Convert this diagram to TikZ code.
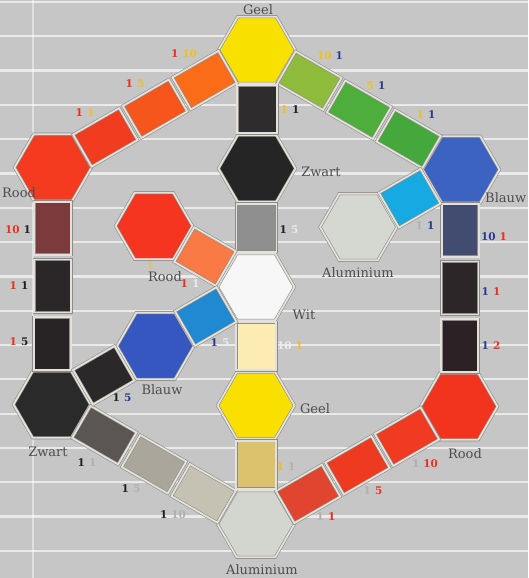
\documentclass[tikz,border=0pt]{standalone}
\usepackage{fontspec}
\setmainfont{DejaVu Serif}
\usetikzlibrary{calc}
\definecolor{bg}{RGB}{198,198,198}
\definecolor{bgl}{RGB}{234,234,234}
\definecolor{edge}{RGB}{140,140,140}
\definecolor{band}{RGB}{228,226,216}
\definecolor{lab}{RGB}{77,77,77}
\definecolor{nr}{RGB}{232,48,32}
\definecolor{ny}{RGB}{240,192,32}
\definecolor{nb}{RGB}{42,58,144}
\definecolor{nk}{RGB}{32,32,32}
\definecolor{nw}{RGB}{236,236,236}
\definecolor{ng}{RGB}{176,176,176}
\newcommand\hexat[3]{%
  \coordinate (#1) at #2;
  \draw[hexline, fill=#3] ($(#1)+(0:38.5)$) -- ($(#1)+(60:38.5)$) -- ($(#1)+(120:38.5)$)
     -- ($(#1)+(180:38.5)$) -- ($(#1)+(240:38.5)$) -- ($(#1)+(300:38.5)$) -- cycle;}
\begin{document}
\begin{tikzpicture}[x=1pt,y=-1pt,
  hexline/.style={draw=edge, line width=0.6pt, double=band, double distance=1.8pt},
  outsq/.style={rectangle, minimum width=53pt, minimum height=37pt, inner sep=0pt, hexline},
  insq/.style={rectangle, minimum width=48pt, minimum height=40pt, inner sep=0pt, hexline},
  lbl/.style={text=lab, font=\fontsize{13}{13}\selectfont, inner sep=0pt},
  num/.style={font=\bfseries\fontsize{10.5}{10.5}\selectfont, inner sep=0pt}]
\fill[bg] (0,0) rectangle (528,578);
\useasboundingbox (0,0) rectangle (528,578);
\foreach \k in {0,...,16} \draw[bgl, line width=2.2pt] (0,{2+34.3*\k}) -- (528,{2+34.3*\k});
\draw[white, opacity=0.45, line width=1.5pt] (33,0) -- (33,578);
% hexagons
\hexat{geel}{(257,50)}{{rgb,255:red,248;green,225;blue,0}}
\hexat{blauw}{(461,169.5)}{{rgb,255:red,60;green,98;blue,194}}
\hexat{roodR}{(459,406.5)}{{rgb,255:red,242;green,52;blue,31}}
\hexat{alu}{(256,524)}{{rgb,255:red,211;green,213;blue,207}}
\hexat{zwart}{(52,404.5)}{{rgb,255:red,42;green,42;blue,42}}
\hexat{roodL}{(53,167.5)}{{rgb,255:red,244;green,58;blue,31}}
\hexat{zwartI}{(257,168.5)}{{rgb,255:red,37;green,37;blue,37}}
\hexat{wit}{(256,287)}{{rgb,255:red,247;green,247;blue,247}}
\hexat{geelI}{(256,405.5)}{{rgb,255:red,249;green,224;blue,0}}
\hexat{roodI}{(154,226)}{{rgb,255:red,245;green,53;blue,31}}
\hexat{blauwI}{(155.5,346)}{{rgb,255:red,53;green,87;blue,191}}
\hexat{aluI}{(358.5,227)}{{rgb,255:red,213;green,215;blue,209}}
% outer connectors
\node[outsq, rotate=-30, fill={rgb,255:red,143;green,187;blue,60}] (g1) at ($(geel)!0.2566!(blauw)$) {};
\node[outsq, rotate=-30, fill={rgb,255:red,78;green,174;blue,60}] (g2) at ($(geel)!0.5!(blauw)$) {};
\node[outsq, rotate=-30, fill={rgb,255:red,69;green,168;blue,60}] (g3) at ($(geel)!0.7434!(blauw)$) {};
\node[outsq, rotate=30, fill={rgb,255:red,250;green,108;blue,24}] (o1) at ($(geel)!0.2566!(roodL)$) {};
\node[outsq, rotate=30, fill={rgb,255:red,246;green,86;blue,28}] (o2) at ($(geel)!0.5!(roodL)$) {};
\node[outsq, rotate=30, fill={rgb,255:red,242;green,60;blue,32}] (o3) at ($(geel)!0.7434!(roodL)$) {};
\node[outsq, rotate=90, fill={rgb,255:red,125;green,58;blue,60}] (m1) at ($(roodL)!0.2566!(zwart)$) {};
\node[outsq, rotate=90, fill={rgb,255:red,43;green,39;blue,40}] (m2) at ($(roodL)!0.5!(zwart)$) {};
\node[outsq, rotate=90, fill={rgb,255:red,40;green,36;blue,37}] (m3) at ($(roodL)!0.7434!(zwart)$) {};
\node[outsq, rotate=90, fill={rgb,255:red,66;green,76;blue,112}] (b1) at ($(blauw)!0.2566!(roodR)$) {};
\node[outsq, rotate=90, fill={rgb,255:red,44;green,38;blue,40}] (b2) at ($(blauw)!0.5!(roodR)$) {};
\node[outsq, rotate=90, fill={rgb,255:red,44;green,34;blue,38}] (b3) at ($(blauw)!0.7434!(roodR)$) {};
\node[outsq, rotate=-30, fill={rgb,255:red,91;green,86;blue,83}] (z1) at ($(zwart)!0.2566!(alu)$) {};
\node[outsq, rotate=-30, fill={rgb,255:red,170;green,166;blue,155}] (z2) at ($(zwart)!0.5!(alu)$) {};
\node[outsq, rotate=-30, fill={rgb,255:red,198;green,194;blue,179}] (z3) at ($(zwart)!0.7434!(alu)$) {};
\node[outsq, rotate=30, fill={rgb,255:red,226;green,69;blue,47}] (r1) at ($(alu)!0.2566!(roodR)$) {};
\node[outsq, rotate=30, fill={rgb,255:red,239;green,58;blue,34}] (r2) at ($(alu)!0.5!(roodR)$) {};
\node[outsq, rotate=30, fill={rgb,255:red,240;green,58;blue,34}] (r3) at ($(alu)!0.7434!(roodR)$) {};
% inner connectors
\node[insq, rotate=90, fill={rgb,255:red,46;green,44;blue,44}] (i1) at ($(geel)!0.5!(zwartI)$) {};
\node[insq, rotate=90, fill={rgb,255:red,143;green,143;blue,143}] (i2) at ($(zwartI)!0.5!(wit)$) {};
\node[insq, rotate=90, fill={rgb,255:red,252;green,236;blue,180}] (i3) at ($(wit)!0.5!(geelI)$) {};
\node[insq, rotate=90, fill={rgb,255:red,220;green,194;blue,108}] (i4) at ($(geelI)!0.5!(alu)$) {};
\node[insq, rotate=-30, fill={rgb,255:red,249;green,122;blue,68}] (i5) at ($(roodI)!0.5!(wit)$) {};
\node[insq, rotate=30, fill={rgb,255:red,31;green,138;blue,210}] (i6) at ($(blauwI)!0.5!(wit)$) {};
\node[insq, rotate=30, fill={rgb,255:red,23;green,169;blue,226}] (i7) at ($(blauw)!0.5!(aluI)$) {};
\node[insq, rotate=30, fill={rgb,255:red,42;green,40;blue,40}] (i8) at ($(zwart)!0.5!(blauwI)$) {};
% names
\node[lbl] (t1) at (258,10) {Geel};
\node[lbl, anchor=west] (t2) at (2,193) {Rood};
\node[lbl, anchor=west] (t3) at (485,198) {Blauw};
\node[lbl] (t4) at (321,172) {Zwart};
\node[lbl] (t5) at (358,273) {Aluminium};
\node[lbl] (t6) at (165,277) {Rood};
\node[lbl] (t7) at (304,315) {Wit};
\node[lbl] (t8) at (162,390) {Blauw};
\node[lbl] (t9) at (315,409) {Geel};
\node[lbl] (t10) at (48,452) {Zwart};
\node[lbl] (t11) at (465,454) {Rood};
\node[lbl] (t12) at (262,570) {Aluminium};
% ratios
\node[num] (n1) at (184,54) {\textcolor{nr}{1}\hspace{4pt}\textcolor{ny}{10}};
\node[num] (n2) at (135,84) {\textcolor{nr}{1}\hspace{4pt}\textcolor{ny}{5}};
\node[num] (n3) at (85,113) {\textcolor{nr}{1}\hspace{4pt}\textcolor{ny}{1}};
\node[num] (n4) at (330,56) {\textcolor{ny}{10}\hspace{4pt}\textcolor{nb}{1}};
\node[num] (n5) at (376,86) {\textcolor{ny}{5}\hspace{4pt}\textcolor{nb}{1}};
\node[num] (n6) at (426,115) {\textcolor{ny}{1}\hspace{4pt}\textcolor{nb}{1}};
\node[num] (n7) at (290,110) {\textcolor{ny}{1}\hspace{4pt}\textcolor{nk}{1}};
\node[num] (n8) at (289,230) {\textcolor{nk}{1}\hspace{4pt}\textcolor{nw}{5}};
\node[num] (n9) at (18,230) {\textcolor{nr}{10}\hspace{4pt}\textcolor{nk}{1}};
\node[num] (n10) at (19,286) {\textcolor{nr}{1}\hspace{4pt}\textcolor{nk}{1}};
\node[num] (n11) at (19,342) {\textcolor{nr}{1}\hspace{4pt}\textcolor{nk}{5}};
\node[num] (n12) at (494,237) {\textcolor{nb}{10}\hspace{4pt}\textcolor{nr}{1}};
\node[num] (n13) at (491,292) {\textcolor{nb}{1}\hspace{4pt}\textcolor{nr}{1}};
\node[num] (n14) at (491,346) {\textcolor{nb}{1}\hspace{4pt}\textcolor{nr}{2}};
\node[num] (n15) at (425,226) {\textcolor{ng}{1}\hspace{4pt}\textcolor{nb}{1}};
\node[num, opacity=0.6] (n16) at (150,266) {\textcolor{ny}{1}};
\node[num] (n17) at (190,284) {\textcolor{nr}{1}\hspace{4pt}\textcolor{nw}{1}};
\node[num] (n18) at (220,343) {\textcolor{nb}{1}\hspace{4pt}\textcolor{nw}{5}};
\node[num] (n19) at (290,346) {\textcolor{nw}{10}\hspace{4pt}\textcolor{ny}{1}};
\node[num] (n20) at (286,467) {\textcolor{ny}{1}\hspace{4pt}\textcolor{ng}{1}};
\node[num] (n21) at (122,398) {\textcolor{nk}{1}\hspace{4pt}\textcolor{nb}{5}};
\node[num] (n22) at (87,463) {\textcolor{nk}{1}\hspace{4pt}\textcolor{ng}{1}};
\node[num] (n23) at (131,489) {\textcolor{nk}{1}\hspace{4pt}\textcolor{ng}{5}};
\node[num] (n24) at (173,515) {\textcolor{nk}{1}\hspace{4pt}\textcolor{ng}{10}};
\node[num] (n25) at (326,517) {\textcolor{ng}{1}\hspace{4pt}\textcolor{nr}{1}};
\node[num] (n26) at (373,491) {\textcolor{ng}{1}\hspace{4pt}\textcolor{nr}{5}};
\node[num] (n27) at (425,464) {\textcolor{ng}{1}\hspace{4pt}\textcolor{nr}{10}};
\end{tikzpicture}
\end{document}
